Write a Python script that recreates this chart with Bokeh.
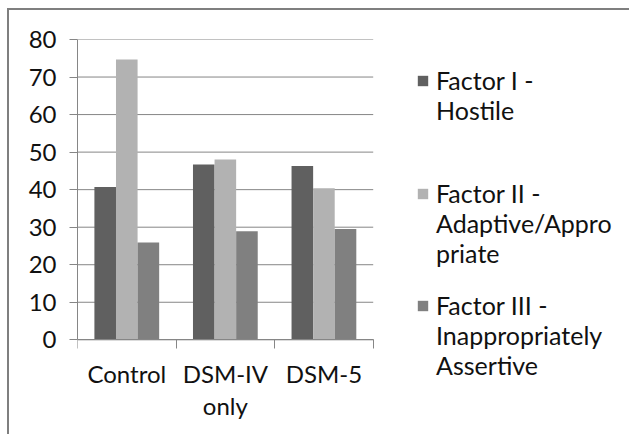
from bokeh.plotting import figure
from bokeh.models import FixedTicker, Legend, LegendItem, ColumnDataSource, Range1d
from bokeh.embed import file_html
from bokeh.resources import INLINE

categories = ["Control", "DSM-IV\nonly", "DSM-5"]
series_names = ["Factor I -\nHostile", "Factor II -\nAdaptive/Appro\npriate", "Factor III -\nInappropriately\nAssertive"]
factor1 = [40.7, 46.7, 46.3]
factor2 = [74.7, 48.0, 40.4]
factor3 = [25.9, 28.9, 29.5]
y_ticks = [0, 10, 20, 30, 40, 50, 60, 70, 80]

colors = ["#606060", "#b2b2b2", "#808080"]
FONT = "Lato"
FS = "24px"
TXT = "#111111"
GRID = "#868686"

n = len(categories)
px_per_cat = 98.57
W, H = 622, 426
ML, MT = 68, 29
frame_w = W - ML
frame_h = H - MT
y_top = 80
px_per_unit = 300.3 / y_top
y_bottom = -(frame_h - 300.3) / px_per_unit

p = figure(width=W, height=H, output_backend="svg", toolbar_location=None,
           x_range=Range1d(-0.5, -0.5 + frame_w / px_per_cat), y_range=Range1d(y_bottom, y_top),
           min_border_left=ML, min_border_right=0, min_border_top=MT, min_border_bottom=0)
p.outline_line_color = None
p.styles = {"margin-left": "7px", "margin-top": "8px",
            "border-top": "2px solid #7f7f7f", "border-left": "2px solid #7f7f7f"}

# horizontal grid lines spanning the category area
p.segment(x0=[-0.5] * len(y_ticks), x1=[n - 0.5] * len(y_ticks), y0=y_ticks, y1=y_ticks,
          line_color=GRID, line_width=1)

bw = 0.219
idx = list(range(n))
renderers = []
for k, (vals, col) in enumerate(zip([factor1, factor2, factor3], colors)):
    off = (k - 1) * bw
    src = ColumnDataSource(dict(x=[i + off for i in idx], top=vals))
    r = p.vbar(x="x", top="top", width=bw, bottom=0, source=src,
               fill_color=col, line_color=None)
    renderers.append(r)

xa = p.xaxis[0]
xa.fixed_location = 0
xa.bounds = (-0.5, n - 0.5)
xa.ticker = FixedTicker(ticks=idx, minor_ticks=[i - 0.5 for i in range(n + 1)])
xa.major_label_overrides = {i: c for i, c in zip(idx, categories)}
xa.major_tick_out = 0
xa.major_tick_in = 0
xa.minor_tick_out = 9
xa.minor_tick_in = 0
xa.minor_tick_line_color = GRID
xa.axis_line_color = GRID
xa.major_label_text_font = FONT
xa.major_label_text_font_size = FS
xa.major_label_text_color = TXT
xa.major_label_text_line_height = 1.10
xa.major_label_standoff = 10

ya = p.yaxis[0]
ya.bounds = (0, y_top)
ya.ticker = FixedTicker(ticks=y_ticks)
ya.major_tick_out = 8
ya.major_tick_in = 0
ya.minor_tick_line_color = None
ya.major_tick_line_color = GRID
ya.axis_line_color = GRID
ya.major_label_text_font = FONT
ya.major_label_text_font_size = FS
ya.major_label_text_color = TXT
ya.major_label_standoff = 13

p.xgrid.grid_line_color = None
p.ygrid.grid_line_color = None

# one legend per series; labels padded with leading blank lines so that the swatch
# (centred on the label block) sits beside the first text line
LINE = 30          # rendered legend line pitch (px)
first_line_y = [80, 193, 305]   # screen y of each entry's first line (from canvas top + 10)
for s, r, fy in zip(series_names, renderers, first_line_y):
    lines = s.split("\n")
    pad_n = len(lines) - 1
    label = "\n".join([" "] * pad_n + lines)
    below = (len(lines) - 0.5) * LINE          # from first-line centre to block bottom
    bottom_from_frame = (H + 10) - (fy + below)
    leg = Legend(items=[LegendItem(label=label, renderers=[r])],
                 location=(339, bottom_from_frame), glyph_width=13, glyph_height=13,
                 label_standoff=7, padding=0, margin=0, spacing=0, border_line_color=None,
                 background_fill_alpha=0, label_text_font=FONT, label_text_font_size="25px",
                 label_text_color=TXT, label_text_line_height=1.24)
    p.add_layout(leg, "center")

open("out.html", "w").write(file_html(p, INLINE))
